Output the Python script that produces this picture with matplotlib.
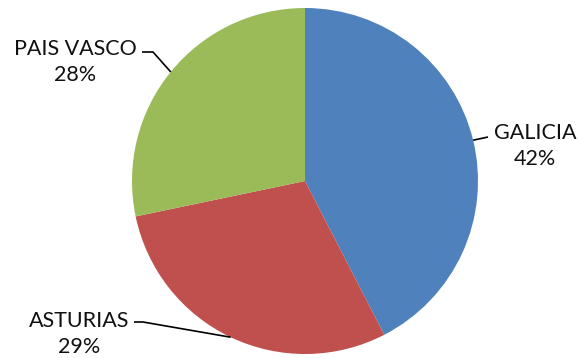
import numpy as np
import matplotlib
matplotlib.use("Agg")
import matplotlib.pyplot as plt

categories = ["GALICIA", "ASTURIAS", "PAIS VASCO"]
values = [42, 29, 28]
colors = ["#4F81BD", "#C0504D", "#9BBB59"]

W, H = 578, 358
fig = plt.figure(figsize=(W / 100, H / 100), dpi=100)
ax = fig.add_axes([0, 0, 1, 1])

cx, cy, r = 305, H - 181, 173
wedges, _ = ax.pie(values, colors=colors, startangle=90, counterclock=False,
                   center=(cx, cy), radius=r, frame=True,
                   wedgeprops=dict(linewidth=0))
ax.set_xlim(0, W)
ax.set_ylim(0, H)
ax.set_aspect("equal")
ax.axis("off")

total = sum(values)
# label positions (pixel coords, image y from top) and leader elbow
label_pos = {
    "GALICIA": (535, 146, [(488, 137)]),
    "ASTURIAS": (79, 334, [(134, 322), (143, 322)]),
    "PAIS VASCO": (75, 62, [(142, 52), (153, 52)]),
}
font = ["Lato", "DejaVu Sans"]
for w, cat, v in zip(wedges, categories, values):
    mid = np.deg2rad((w.theta1 + w.theta2) / 2)
    px, py = cx + r * np.cos(mid), cy + r * np.sin(mid)
    tx, ty, elbow = label_pos[cat]
    pts = [(x, H - y) for x, y in elbow] + [(px, py)]
    xs, ys = zip(*pts)
    ax.plot(xs, ys, color="black", lw=1.2, solid_capstyle="butt")
    pct = f"{round(v / total * 100):.0f}%"
    ax.text(tx, H - ty, f"{cat}\n{pct}", ha="center", va="center",
            fontsize=15.5, family=font, color="#111111", linespacing=1.38)

fig.savefig("out.png", dpi=100)
